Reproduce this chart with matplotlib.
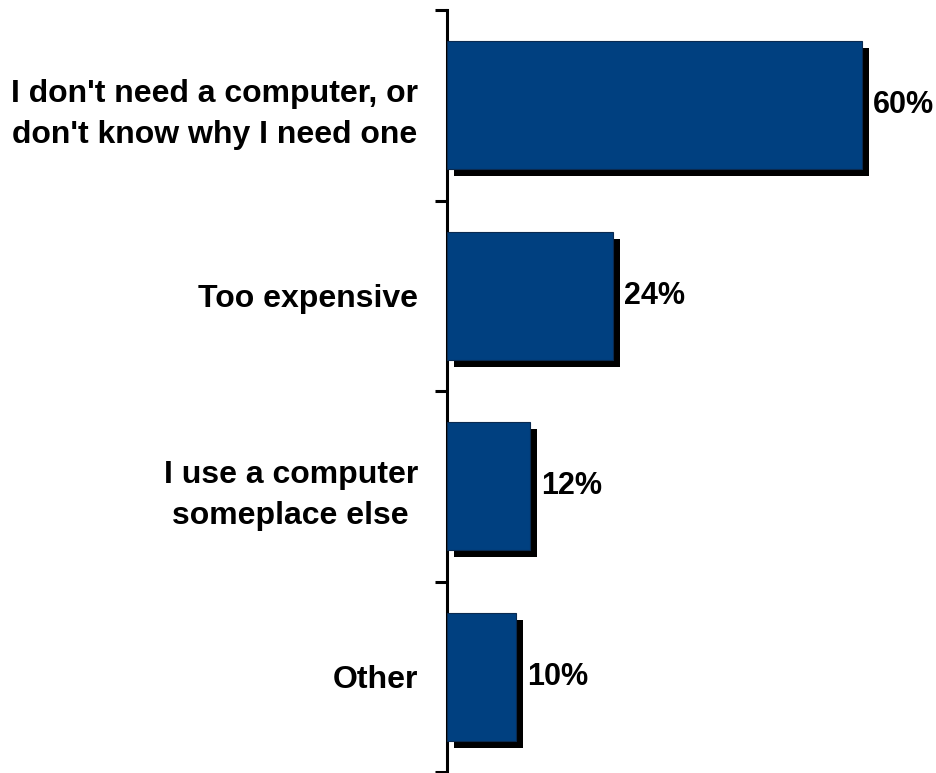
import matplotlib
matplotlib.use("Agg")
import matplotlib.pyplot as plt
import matplotlib.patheffects as pe

categories = ["I don't need a computer, or\ndon't know why I need one",
              "Too expensive",
              "I use a computer\nsomeplace else",
              "Other"]
values = [60, 24, 12, 10]
value_labels = ["60%", "24%", "12%", "10%"]

plt.rcParams['font.family'] = ['Liberation Sans', 'DejaVu Sans']

fig = plt.figure(figsize=(9.37, 7.73), dpi=100)
ax = fig.add_axes([447/937, 1/773, 1 - 447/937, 1 - 11/773])

ypos = list(range(len(values)))
bars = ax.barh(ypos, values, height=0.67, color="#004080",
               edgecolor="#0a2a50", linewidth=0.8, zorder=3)
for b in bars:
    b.set_path_effects([pe.SimplePatchShadow(offset=(5, -5), shadow_rgbFace="black", alpha=1.0),
                        pe.Normal()])

for y, v, lab in zip(ypos, values, value_labels):
    ax.text(v + 1.6, y, lab, va="center", ha="left", fontsize=22, fontweight="bold")

ax.set_xlim(0, 490/6.92)
ax.set_ylim(len(values) - 0.5, -0.5)

# boundary ticks between categories, labels at the centers
ax.set_yticks([i - 0.5 for i in range(len(values) + 1)])
ax.set_yticklabels([])
ax.set_yticks(ypos, minor=True)
ax.set_yticklabels(categories, minor=True, fontsize=23, fontweight="bold",
                   ha="right", multialignment="center", linespacing=1.5)
ax.tick_params(axis="y", which="major", direction="out", length=9, width=2.2)
ax.tick_params(axis="y", which="minor", length=0, pad=21)

ax.set_xticks([])
for s in ["top", "right", "bottom"]:
    ax.spines[s].set_visible(False)
ax.spines["left"].set_linewidth(2.2)

fig.savefig("out.png", dpi=100)
